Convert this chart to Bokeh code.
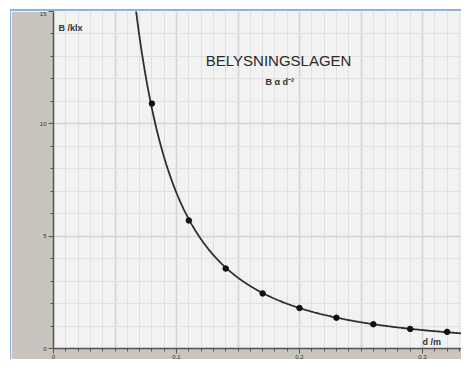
import numpy as np
from bokeh.plotting import figure
from bokeh.models import SingleIntervalTicker, Label, CustomJSTickFormatter
from bokeh.embed import file_html
from bokeh.resources import INLINE

# data
d_m = [0.08, 0.11, 0.14, 0.17, 0.20, 0.23, 0.26, 0.29, 0.32]
b_klx = [10.9, 5.7, 3.56, 2.45, 1.8, 1.37, 1.08, 0.87, 0.74]
x_ticks = [0, 0.1, 0.2, 0.3]
y_ticks = [0, 5, 10, 15]
title_text = "BELYSNINGSLAGEN"
subtitle_text = "B \u03b1 d\u207b\u00b2"

# power-law fit through the measured points
coef = np.polyfit(np.log(d_m), np.log(b_klx), 1)
d_fit = np.linspace(0.06, 0.34, 300)
b_fit = np.exp(coef[1]) * d_fit ** coef[0]

W, H = 451, 350
p = figure(width=W, height=H, output_backend="svg", toolbar_location=None,
           x_range=(0, 0.3325), y_range=(0, 15),
           min_border_left=42, min_border_top=0, min_border_bottom=12, min_border_right=0)
p.styles = {"margin-left": "10px", "margin-top": "9px",
            "border-top": "2px solid #8fb0dc", "border-left": "1px solid #8fb0dc"}
p.background_fill_color = "#f2f2f2"
p.border_fill_color = "#c9c4bd"
p.outline_line_color = None

FONT = "Liberation Sans"

# grids
p.xgrid.ticker = SingleIntervalTicker(interval=0.05, num_minor_ticks=5)
p.ygrid.ticker = SingleIntervalTicker(interval=5, num_minor_ticks=5)
for g in (p.xgrid, p.ygrid):
    g.grid_line_color = "#d4d4d4"
    g.grid_line_width = 1.6
    g.minor_grid_line_color = "#e0e0e0"
    g.minor_grid_line_width = 1

# axes
p.xaxis.ticker = SingleIntervalTicker(interval=0.1, num_minor_ticks=10)
p.yaxis.ticker = SingleIntervalTicker(interval=5, num_minor_ticks=5)
p.xaxis.formatter = CustomJSTickFormatter(code="return tick == 0 ? '0' : tick.toFixed(1);")
for ax in (p.xaxis, p.yaxis):
    ax.axis_line_color = "#555555"
    ax.axis_line_width = 1.5
    ax.major_tick_line_color = "#555555"
    ax.minor_tick_line_color = "#555555"
    ax.major_tick_in = 0
    ax.major_tick_out = 5
    ax.minor_tick_in = 0
    ax.minor_tick_out = 3
    ax.major_label_text_font = FONT
    ax.major_label_text_font_size = "6px"
    ax.major_label_text_color = "#333333"
p.yaxis.major_label_standoff = 2
p.xaxis.major_label_standoff = 1

# curve and points
p.line(d_fit, b_fit, line_color="#2e2e2e", line_width=1.8)
p.scatter(d_m, b_klx, size=5.5, color="#111111")

# texts
p.add_layout(Label(x=0.183, y=12.8, text=title_text, text_font=FONT, text_font_size="15px",
                   text_color="#2a2a2a", text_align="center", text_baseline="middle"))
p.add_layout(Label(x=0.184, y=11.85, text=subtitle_text, text_font=FONT, text_font_size="9px",
                   text_font_style="bold", text_color="#333333", text_align="center",
                   text_baseline="middle"))
p.add_layout(Label(x=0.004, y=14.27, text="B /klx", text_font=FONT, text_font_size="9px",
                   text_font_style="bold", text_color="#333333", text_align="left",
                   text_baseline="middle"))
p.add_layout(Label(x=0.3, y=0.29, text="d /m", text_font=FONT, text_font_size="9px",
                   text_font_style="bold", text_color="#333333", text_align="left",
                   text_baseline="middle"))

open("out.html", "w").write(file_html(p, INLINE))
